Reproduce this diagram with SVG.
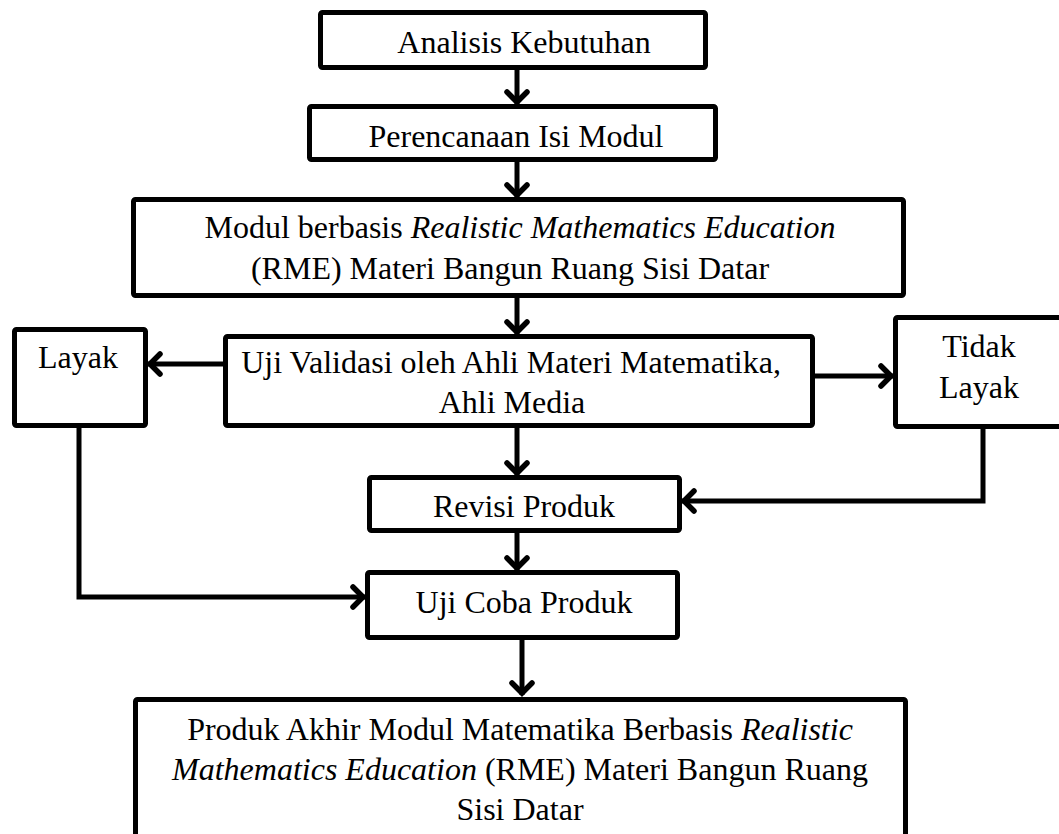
<svg xmlns="http://www.w3.org/2000/svg" width="1059" height="834" viewBox="0 0 1059 834">
<style>
.box{fill:#fff;stroke:#000;stroke-width:5;stroke-linejoin:round}
.t{font-family:"Liberation Serif","Times New Roman",serif;font-size:32px;fill:#000;text-anchor:middle}
.i{font-style:italic}
.c{fill:none;stroke:#000;stroke-width:5;stroke-linejoin:miter}
</style>
<defs>
<marker id="ah" viewBox="-16 -14 18 28" markerWidth="18" markerHeight="28" markerUnits="userSpaceOnUse" refX="0" refY="0" orient="auto">
<path d="M-12,-10 L-2,0 L-12,10" fill="none" stroke="#000" stroke-width="5.5" stroke-linecap="round" stroke-linejoin="miter"/>
</marker>
</defs>
<rect width="1059" height="834" fill="#fff"/>
<g id="connectors">
<line class="c" x1="517" y1="70" x2="517" y2="104" marker-end="url(#ah)"/>
<line class="c" x1="517" y1="162" x2="517" y2="197" marker-end="url(#ah)"/>
<line class="c" x1="517" y1="297" x2="517" y2="334" marker-end="url(#ah)"/>
<line class="c" x1="223" y1="364" x2="148" y2="364" marker-end="url(#ah)"/>
<line class="c" x1="815" y1="376" x2="893" y2="376" marker-end="url(#ah)"/>
<line class="c" x1="517" y1="428" x2="517" y2="475" marker-end="url(#ah)"/>
<polyline class="c" points="983,429 983,501 682,501" marker-end="url(#ah)"/>
<line class="c" x1="517" y1="533" x2="517" y2="570" marker-end="url(#ah)"/>
<polyline class="c" points="79,426 79,597 365,597" marker-end="url(#ah)"/>
<line class="c" x1="522" y1="640" x2="522" y2="695" marker-end="url(#ah)"/>
</g>
<g id="analisis">
<rect class="box" x="320.5" y="12.5" width="385" height="55" rx="2"/>
<text class="t" x="524" y="53">Analisis Kebutuhan</text>
</g>
<g id="perencanaan">
<rect class="box" x="309.5" y="106.5" width="406" height="53" rx="2"/>
<text class="t" x="516" y="147">Perencanaan Isi Modul</text>
</g>
<g id="modul">
<rect class="box" x="133.5" y="199.5" width="770" height="96" rx="2"/>
<text class="t" x="520" y="238">Modul berbasis <tspan class="i">Realistic Mathematics Education</tspan></text>
<text class="t" x="510" y="279">(RME) Materi Bangun Ruang Sisi Datar</text>
</g>
<g id="validasi">
<rect class="box" x="225.5" y="336.5" width="587" height="89" rx="2"/>
<text class="t" x="511" y="373">Uji Validasi oleh Ahli Materi Matematika,</text>
<text class="t" x="512" y="413">Ahli Media</text>
</g>
<g id="layak">
<rect class="box" x="14.5" y="329.5" width="131" height="96" rx="2"/>
<text class="t" x="78" y="368">Layak</text>
</g>
<g id="tidak-layak">
<rect class="box" x="895.5" y="317.5" width="170" height="109" rx="2"/>
<text class="t" x="979" y="357">Tidak</text>
<text class="t" x="979" y="398">Layak</text>
</g>
<g id="revisi">
<rect class="box" x="369.5" y="477.5" width="310" height="53" rx="2"/>
<text class="t" x="524" y="517">Revisi Produk</text>
</g>
<g id="ujicoba">
<rect class="box" x="367.5" y="572.5" width="310" height="65" rx="2"/>
<text class="t" x="524" y="613">Uji Coba Produk</text>
</g>
<g id="produk-akhir">
<rect class="box" x="135.5" y="699.5" width="770" height="160" rx="2"/>
<text class="t" x="520" y="740">Produk Akhir Modul Matematika Berbasis <tspan class="i">Realistic</tspan></text>
<text class="t" x="520" y="780"><tspan class="i">Mathematics Education</tspan> (RME) Materi Bangun Ruang</text>
<text class="t" x="520" y="820">Sisi Datar</text>
</g>
</svg>
